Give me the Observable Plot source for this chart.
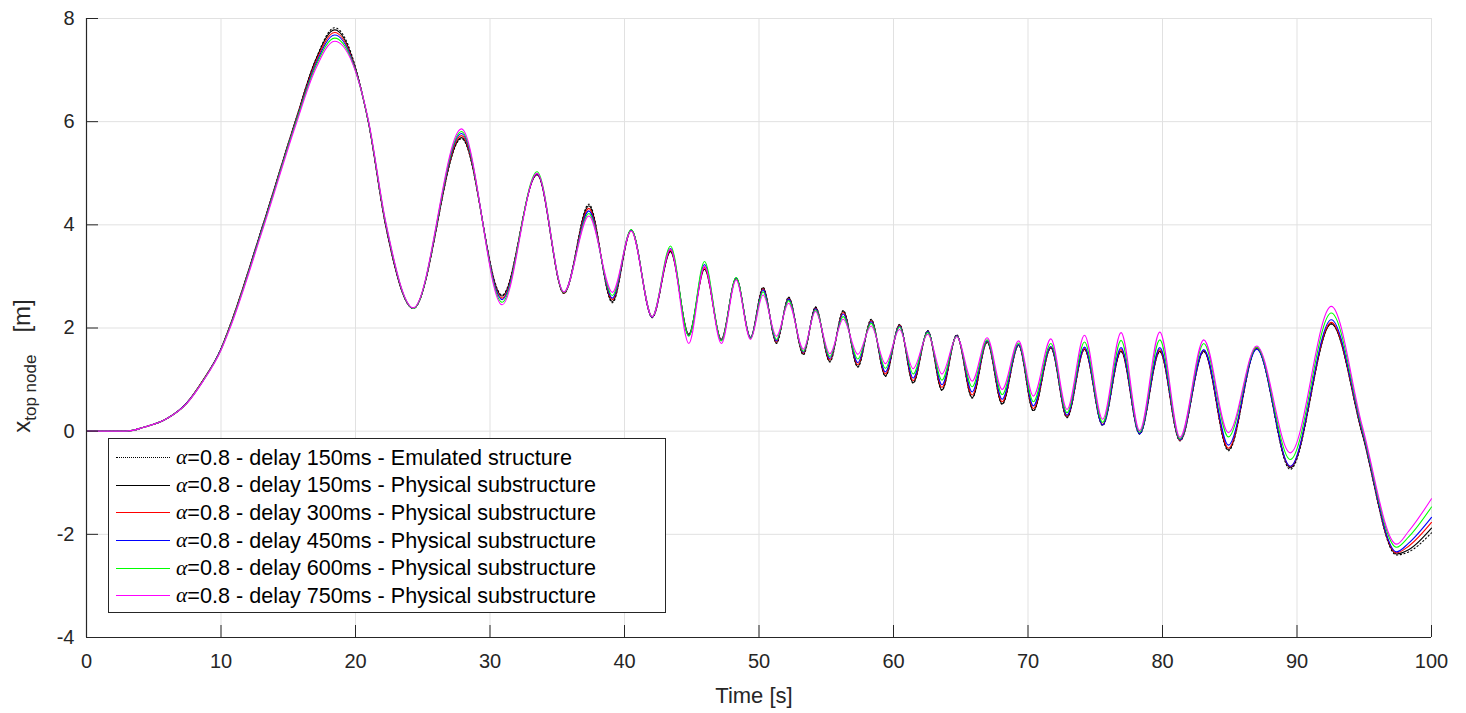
<!DOCTYPE html>
<html><head><meta charset="utf-8">
<script src="https://cdn.jsdelivr.net/npm/d3@7"></script>
<script src="https://cdn.jsdelivr.net/npm/@observablehq/plot@0.6"></script>
<style>
body{margin:0;background:#fff;font-family:"Liberation Sans",Arial,sans-serif;}
#wrap{position:relative;width:1466px;height:713px;}
#legend{position:absolute;left:108px;top:438px;width:558px;height:175px;border:1px solid #262626;background:#fff;box-sizing:border-box;padding-top:5px;}
.row{height:27.6px;display:flex;align-items:center;font-size:21.6px;color:#000;white-space:nowrap;}
.sw{width:54px;margin-left:7px;margin-right:6px;height:0;}
.al{font-family:"Liberation Serif","DejaVu Serif",serif;font-style:italic;}
</style></head><body><div id="wrap"></div>
<script>
// ---- data ----
const time = [0, 2.5, 3.3, 4.2, 5.95, 7.43, 8.67, 10, 10.63, 13.14, 15.54, 17, 18.45, 20.95, 22.23, 24.3, 27.88, 30.9, 33.5, 35.5, 37.35, 39.1, 40.5, 42.06, 43.42, 44.78, 45.95, 47.2, 48.3, 49.37, 50.3, 51.3, 52.2, 53.3, 54.2, 55.27, 56.26, 57.35, 58.34, 59.4, 60.45, 61.46, 62.55, 63.6, 64.7, 65.85, 66.96, 68.08, 69.3, 70.4, 71.7, 72.9, 74.2, 75.55, 76.92, 78.3, 79.8, 81.3, 83.07, 84.9, 87.0, 89.5, 92.55, 94.85, 97.4, 98.3, 100];

const emulated150 = [0, 0, 0.01, 0.07, 0.24, 0.54, 0.99, 1.60, 2.02, 4.02, 6.02, 7.18, 7.82, 6.00, 4.00, 2.38, 5.67, 2.64, 4.97, 2.67, 4.40, 2.49, 3.90, 2.20, 3.49, 1.87, 3.14, 1.77, 2.97, 1.81, 2.79, 1.70, 2.60, 1.48, 2.41, 1.34, 2.34, 1.24, 2.17, 1.06, 2.07, 0.93, 1.95, 0.79, 1.87, 0.64, 1.72, 0.52, 1.66, 0.39, 1.61, 0.26, 1.58, 0.11, 1.54, -0.06, 1.54, -0.19, 1.54, -0.38, 1.60, -0.74, 2.08, -0.05, -2.40, -2.34, -1.97];
const physical150 = [0, 0, 0.01, 0.07, 0.24, 0.54, 0.99, 1.60, 2.02, 4.02, 6.02, 7.17, 7.78, 6.00, 4.00, 2.38, 5.69, 2.62, 4.97, 2.67, 4.37, 2.51, 3.90, 2.21, 3.48, 1.88, 3.14, 1.78, 2.97, 1.82, 2.78, 1.71, 2.59, 1.49, 2.40, 1.35, 2.33, 1.25, 2.16, 1.07, 2.06, 0.94, 1.94, 0.80, 1.86, 0.65, 1.73, 0.53, 1.67, 0.40, 1.62, 0.27, 1.59, 0.12, 1.55, -0.05, 1.55, -0.18, 1.55, -0.36, 1.60, -0.71, 2.08, -0.05, -2.38, -2.30, -1.88];
const physical300 = [0, 0, 0.01, 0.07, 0.24, 0.54, 0.99, 1.59, 2.01, 4.00, 6.00, 7.13, 7.73, 6.00, 4.02, 2.38, 5.73, 2.58, 4.98, 2.68, 4.32, 2.55, 3.89, 2.21, 3.51, 1.86, 3.17, 1.77, 2.96, 1.80, 2.76, 1.73, 2.57, 1.51, 2.38, 1.38, 2.30, 1.29, 2.14, 1.11, 2.05, 0.98, 1.93, 0.85, 1.85, 0.70, 1.74, 0.57, 1.68, 0.44, 1.63, 0.29, 1.60, 0.13, 1.58, -0.04, 1.58, -0.18, 1.57, -0.33, 1.62, -0.69, 2.11, -0.02, -2.36, -2.23, -1.77];
const physical450 = [0, 0, 0.01, 0.07, 0.24, 0.54, 0.98, 1.59, 2.00, 3.99, 5.98, 7.09, 7.68, 6.01, 4.04, 2.38, 5.77, 2.55, 4.99, 2.69, 4.27, 2.58, 3.90, 2.21, 3.54, 1.85, 3.23, 1.76, 2.97, 1.81, 2.74, 1.75, 2.56, 1.53, 2.37, 1.41, 2.27, 1.33, 2.12, 1.15, 2.04, 1.03, 1.93, 0.90, 1.85, 0.76, 1.75, 0.62, 1.68, 0.49, 1.64, 0.31, 1.63, 0.12, 1.62, -0.05, 1.62, -0.17, 1.58, -0.27, 1.59, -0.68, 2.16, 0.00, -2.34, -2.17, -1.67];
const physical600 = [0, 0, 0.01, 0.07, 0.24, 0.53, 0.98, 1.58, 1.99, 3.97, 5.96, 7.05, 7.62, 6.02, 4.06, 2.38, 5.81, 2.50, 5.03, 2.69, 4.22, 2.63, 3.91, 2.22, 3.59, 1.84, 3.29, 1.75, 2.98, 1.80, 2.70, 1.78, 2.53, 1.55, 2.35, 1.45, 2.22, 1.40, 2.09, 1.22, 2.02, 1.11, 1.91, 0.99, 1.84, 0.86, 1.77, 0.71, 1.71, 0.57, 1.70, 0.36, 1.73, 0.17, 1.76, -0.02, 1.77, -0.15, 1.70, -0.11, 1.63, -0.55, 2.29, 0.05, -2.25, -2.05, -1.47];
const physical750 = [0, 0, 0.01, 0.07, 0.24, 0.53, 0.97, 1.57, 1.97, 3.94, 5.92, 7.00, 7.56, 6.04, 4.08, 2.39, 5.86, 2.45, 5.00, 2.70, 4.17, 2.69, 3.88, 2.22, 3.53, 1.70, 3.20, 1.70, 2.93, 1.78, 2.64, 1.84, 2.48, 1.59, 2.32, 1.50, 2.17, 1.49, 2.04, 1.31, 1.97, 1.21, 1.88, 1.11, 1.83, 0.97, 1.81, 0.81, 1.75, 0.68, 1.79, 0.42, 1.86, 0.23, 1.91, 0.01, 1.92, -0.12, 1.77, -0.03, 1.65, -0.42, 2.42, 0.10, -2.19, -1.94, -1.31];

const seriesLabels = [
  "=0.8 - delay 150ms - Emulated structure",
  "=0.8 - delay 150ms - Physical substructure",
  "=0.8 - delay 300ms - Physical substructure",
  "=0.8 - delay 450ms - Physical substructure",
  "=0.8 - delay 600ms - Physical substructure",
  "=0.8 - delay 750ms - Physical substructure"
];
const seriesValues = [emulated150, physical150, physical300, physical450, physical600, physical750];
const seriesColors = ["#000000", "#000000", "#ff0000", "#0000ff", "#00ff00", "#ff00ff"];
const seriesDash = ["1.2 2.6", null, null, null, null, null];

const xTicks = [0, 10, 20, 30, 40, 50, 60, 70, 80, 90, 100];
const yTicks = [-4, -2, 0, 2, 4, 6, 8];
const xLabel = "Time [s]";
const yLabelMain = "x", yLabelSub = "top node", yLabelUnit = "[m]";

// ---- chart ----
const axisColor = "#262626";
const lineMarks = seriesValues.map((vals, k) =>
  Plot.line(time.map((t, i) => ({t, v: vals[i]})), {
    x: "t", y: "v", curve: "monotone-x",
    stroke: seriesColors[k], strokeWidth: 1.1,
    strokeDasharray: seriesDash[k] || undefined
  })
);
const fmt = d => String(d);

const chart = Plot.plot({
  width: 1466, height: 713,
  marginLeft: 86, marginRight: 35, marginTop: 18, marginBottom: 76,
  style: {fontFamily: "'Liberation Sans', Arial, sans-serif", fontSize: "20px", color: axisColor, background: "#fff", overflow: "visible"},
  x: {domain: [xTicks[0], xTicks[xTicks.length - 1]], label: null},
  y: {domain: [yTicks[0], yTicks[yTicks.length - 1]], label: null},
  marks: [
    Plot.gridX(xTicks, {stroke: "#e1e1e1", strokeOpacity: 1}),
    Plot.gridY(yTicks, {stroke: "#e1e1e1", strokeOpacity: 1}),
    ...lineMarks,
    Plot.ruleX([xTicks[0]], {stroke: axisColor, strokeWidth: 1.2}),
    Plot.ruleY([yTicks[0]], {stroke: axisColor, strokeWidth: 1.2}),
    Plot.axisX(xTicks, {tickSize: 0, tickPadding: 16, label: null, fill: "#262626", tickFormat: fmt}),
    Plot.axisX(xTicks, {tickSize: 12, dy: -12, fill: "none", stroke: axisColor, label: null}),
    Plot.axisY(yTicks, {tickSize: 0, tickPadding: 12, label: null, fill: "#262626", tickFormat: fmt}),
    Plot.axisY(yTicks, {tickSize: 12, dx: 12, fill: "none", stroke: axisColor, label: null})
  ]
});

const wrap = document.getElementById("wrap");
wrap.appendChild(chart);

// axis titles
const svg = d3.select(chart);
svg.append("text")
  .attr("x", 754).attr("y", 703)
  .attr("text-anchor", "middle")
  .attr("fill", axisColor)
  .style("font-size", "22px")
  .text(xLabel);

const yl = svg.append("text")
  .attr("transform", "translate(30,366) rotate(-90)")
  .attr("text-anchor", "middle")
  .attr("fill", axisColor)
  .style("font-size", "24px");
yl.append("tspan").text(yLabelMain);
yl.append("tspan").attr("dy", 6).style("font-size", "17px").text(yLabelSub);
yl.append("tspan").attr("dy", -6).attr("dx", 22).text(yLabelUnit);

// legend
const lg = document.createElement("div");
lg.id = "legend";
seriesLabels.forEach((lab, k) => {
  const row = document.createElement("div");
  row.className = "row";
  const sw = document.createElement("span");
  sw.className = "sw";
  sw.style.borderTop = `1.2px ${seriesDash[k] ? "dotted" : "solid"} ${seriesColors[k]}`;
  const al = document.createElement("span");
  al.className = "al";
  al.textContent = "α";
  const tx = document.createElement("span");
  tx.textContent = lab;
  row.append(sw, al, tx);
  lg.appendChild(row);
});
wrap.appendChild(lg);
</script></body></html>
